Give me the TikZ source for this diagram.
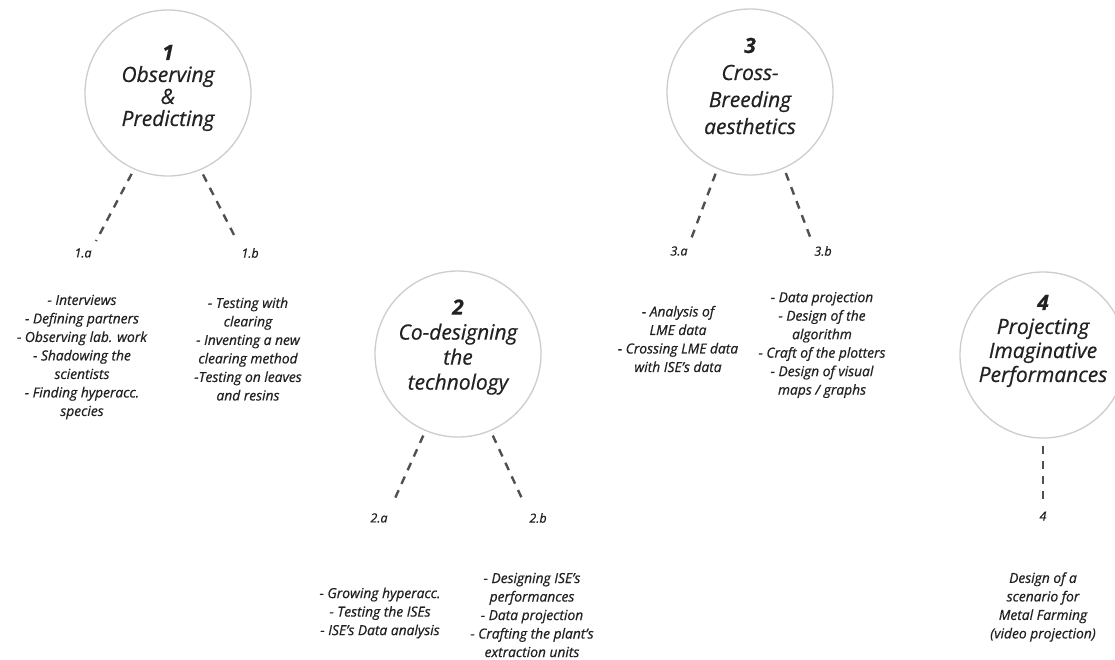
\documentclass[tikz,border=0pt]{standalone}
\usepackage{fontspec}
\setmainfont{Open Sans}[FakeBold=0.6]
\definecolor{ink}{HTML}{222222}
\definecolor{ringgray}{HTML}{CDCDCD}
\definecolor{dashgray}{HTML}{505050}
\begin{document}
\begin{tikzpicture}[x=1pt,y=-1pt,
  every node/.style={text=ink},
  ring/.style={circle, draw=ringgray, line width=1.3pt, minimum size=166pt, inner sep=0pt},
  title/.style={align=center, inner sep=0pt},
  lbl/.style={font=\fontsize{12.5}{14}\selectfont\itshape, inner sep=1pt},
  items/.style={align=center, inner sep=0pt, font=\fontsize{13.8}{18.5}\selectfont\itshape},
  dashline/.style={draw=dashgray, line width=2.4pt, dash pattern=on 8pt off 7pt}
]
\useasboundingbox[fill=white] (0,0) rectangle (1115,659);

% circles
\node[ring] (c1) at (168,93) {};
\node[ring] (c2) at (458,354) {};
\node[ring] (c3) at (750,92) {};
\node[ring] (c4) at (1043,355) {};

% titles
\node[title, font=\fontsize{21}{22}\selectfont\itshape] (t1) at (168,88)
  {{\bfseries 1}\\Observing\\\&\\Predicting};
\node[title, font=\fontsize{21}{25}\selectfont\itshape] (t2) at (458,347)
  {{\bfseries 2}\\Co-designing\\the\\technology};
\node[title, font=\fontsize{21}{27}\selectfont\itshape] (t3) at (750,86)
  {{\bfseries 3}\\Cross-\\Breeding\\aesthetics};
\node[title, font=\fontsize{21}{24}\selectfont\itshape] (t4) at (1043,341)
  {{\bfseries 4}\\Projecting\\Imaginative\\Performances};

% labels
\node[lbl] (l1a) at (83,253) {1.a};
\node[lbl] (l1b) at (250,253) {1.b};
\node[lbl] (l2a) at (379,518) {2.a};
\node[lbl] (l2b) at (538,518) {2.b};
\node[lbl] (l3a) at (679,251) {3.a};
\node[lbl] (l3b) at (823,251) {3.b};
\node[lbl] (l4)  at (1043,516) {4};

% connectors
\draw[dashline, shorten <=5pt, shorten >=7pt] (c1.-114) -- (l1a.north east);
\draw[dashline, shorten <=5pt, shorten >=7pt] (c1.-67) -- (l1b.north west);
\draw[dashline, shorten <=5pt, shorten >=11pt] (c2.-113) -- (l2a.north east);
\draw[dashline, shorten <=5pt, shorten >=11pt] (c2.-67) -- (l2b.north west);
\draw[dashline, shorten <=5pt, shorten >=7pt] (c3.-113) -- (l3a.north east);
\draw[dashline, shorten <=5pt, shorten >=7pt] (c3.-66) -- (l3b.north west);
\draw[dashline, shorten <=7pt, shorten >=9pt] (c4.south) -- (l4.north);

% item lists
\node[items] (b1a) at (82,357) {- Interviews\\- Defining partners\\- Observing lab. work\\- Shadowing the\\scientists\\- Finding hyperacc.\\species};
\node[items] (b1b) at (248,349) {- Testing with\\clearing\\- Inventing a new\\clearing method\\-Testing on leaves\\and resins};
\node[items] (b2a) at (380,613) {- Growing hyperacc.\\- Testing the ISEs\\- ISE's Data analysis};
\node[items] (b2b) at (532,615) {- Designing ISE's\\performances\\- Data projection\\- Crafting the plant's\\extraction units};
\node[items] (b3a) at (678,339) {- Analysis of\\LME data\\- Crossing LME data\\with ISE's data};
\node[items] (b3b) at (822,345) {- Data projection\\- Design of the\\algorithm\\- Craft of the plotters\\- Design of visual\\maps / graphs};
\node[items] (b4) at (1043,607) {Design of a\\scenario for\\Metal Farming\\(video projection)};
\end{tikzpicture}
\end{document}
